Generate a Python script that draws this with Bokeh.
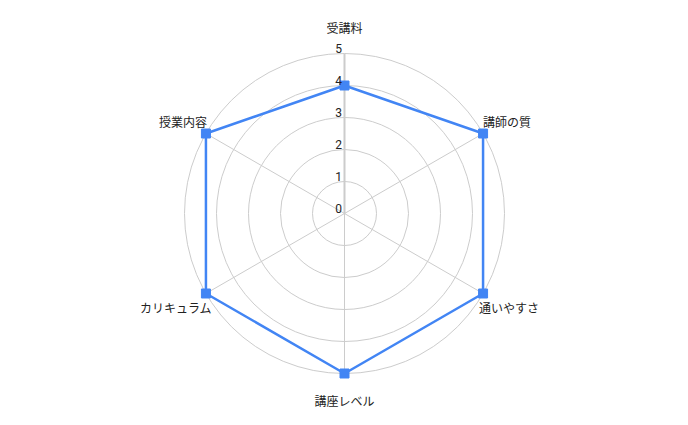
import numpy as np
from bokeh.plotting import figure
from bokeh.models import ColumnDataSource, Range1d
from bokeh.core.properties import value
from bokeh.embed import file_html
from bokeh.resources import INLINE

categories = ["受講料", "講師の質", "通いやすさ", "講座レベル", "カリキュラム", "授業内容"]
scores = [4, 5, 5, 5, 5, 5]
tick_values = [0, 1, 2, 3, 4, 5]
tick_labels = ["0", "1", "2", "3", "4", "5"]
r_max = 5

BLUE = "#4285f4"
GRID = "#cccccc"
TEXT = "#222222"
FONT = "Noto Sans CJK JP"

p = figure(width=672, height=409, output_backend="svg", toolbar_location=None,
           min_border=0, x_range=Range1d(-10.75, 10.25), y_range=Range1d(-6.125, 6.65625))
p.axis.visible = False
p.grid.visible = False
p.outline_line_color = None
p.background_fill_color = "white"
p.border_fill_color = "white"

n = len(categories)
ang = np.pi / 2 - 2 * np.pi * np.arange(n) / n

# rings
for t in tick_values[1:]:
    p.circle(x=0, y=0, radius=t, fill_color=None, line_color=GRID, line_width=1)

# spokes
for i, a in enumerate(ang):
    p.line([0, r_max * np.cos(a)], [0, r_max * np.sin(a)], line_color=GRID,
           line_width=2 if i == 0 else 1)

# data polygon
xs = [s * np.cos(a) for s, a in zip(scores, ang)]
ys = [s * np.sin(a) for s, a in zip(scores, ang)]
p.line(xs + xs[:1], ys + ys[:1], line_color=BLUE, line_width=2.5)
p.scatter(xs, ys, marker="square", size=9, fill_color=BLUE, line_color=BLUE)

# tick labels
p.text(x=[0] * len(tick_values), y=tick_values, text=tick_labels,
       text_align="right", text_baseline="alphabetic", x_offset=-2.5, y_offset=-5,
       text_font=value("Roboto"), text_font_size="12px", text_color=TEXT)

# category labels
lx = [r_max * np.cos(a) for a in ang]
ly = [r_max * np.sin(a) for a in ang]
aligns = []
for a in ang:
    c = np.cos(a)
    aligns.append("left" if c > 0.01 else ("right" if c < -0.01 else "center"))
xoff = [0, 0, -4, 0, 6, 1]
yoff = [-26, -12, 14, 27, 14, -12]
src = ColumnDataSource(dict(x=lx, y=ly, text=categories, align=aligns, xo=xoff, yo=yoff))
p.text(x="x", y="y", text="text", source=src, text_align="align", text_baseline="middle",
       x_offset="xo", y_offset="yo", text_font=value(FONT), text_font_size="12px",
       text_color=TEXT)

open("out.html", "w").write(file_html(p, INLINE))
